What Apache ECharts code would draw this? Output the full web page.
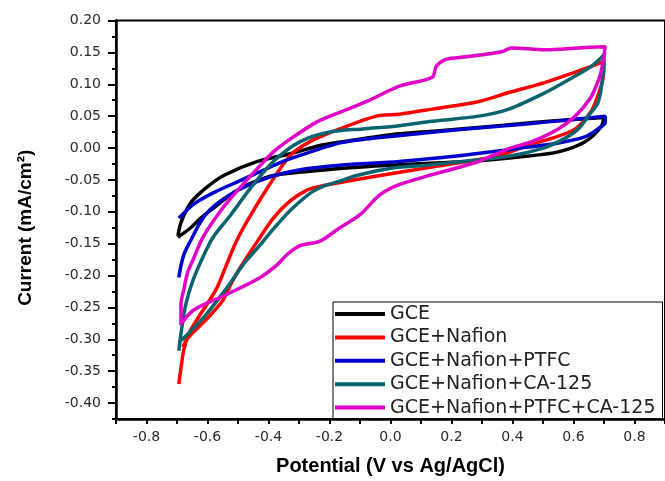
<!DOCTYPE html>
<html>
<head>
<meta charset="utf-8">
<script src="https://cdn.jsdelivr.net/npm/echarts@6/dist/echarts.min.js"></script>
<style>
  html, body { margin: 0; padding: 0; background: #fff; }
  #chart { width: 665px; height: 481px; }
</style>
</head>
<body>
<div id="chart"></div>
<script>
// tick labels
const xTicks = [-0.8, -0.6, -0.4, -0.2, 0.0, 0.2, 0.4, 0.6, 0.8];
const yTicks = [-0.40, -0.35, -0.30, -0.25, -0.20, -0.15, -0.10, -0.05, 0.00, 0.05, 0.10, 0.15, 0.20];

// series names
const names = ['GCE', 'GCE+Nafion', 'GCE+Nafion+PTFC', 'GCE+Nafion+CA-125', 'GCE+Nafion+PTFC+CA-125'];

// [potential (V), current (mA/cm2)], forward scan then return scan
const gce = [
  [-0.697, -0.138], [-0.687, -0.117], [-0.655, -0.086], [-0.606, -0.063], [-0.547, -0.043],
  [-0.436, -0.021], [-0.329, -0.009], [-0.221, 0.005], [-0.111, 0.013], [0.0, 0.021],
  [0.160, 0.027], [0.355, 0.035], [0.518, 0.042], [0.700, 0.048],
  [0.690, 0.033], [0.638, 0.010], [0.550, -0.006], [0.443, -0.013], [0.290, -0.020],
  [0.0, -0.027], [-0.166, -0.032], [-0.274, -0.037], [-0.384, -0.043], [-0.492, -0.063],
  [-0.567, -0.089], [-0.622, -0.110], [-0.655, -0.125], [-0.697, -0.140]
];

const gceNafion = [
  [-0.694, -0.370], [-0.687, -0.345], [-0.677, -0.315], [-0.660, -0.290], [-0.629, -0.265],
  [-0.573, -0.223], [-0.541, -0.187], [-0.508, -0.149], [-0.469, -0.114], [-0.404, -0.063],
  [-0.329, -0.012], [-0.264, 0.010], [-0.166, 0.030], [-0.046, 0.050], [0.029, 0.053],
  [0.137, 0.061], [0.290, 0.073], [0.388, 0.087], [0.508, 0.103], [0.599, 0.118],
  [0.658, 0.128], [0.700, 0.136],
  [0.697, 0.110], [0.680, 0.082], [0.656, 0.056], [0.606, 0.030], [0.528, 0.015],
  [0.453, 0.005], [0.355, -0.012], [0.160, -0.028], [-0.059, -0.045], [-0.221, -0.059],
  [-0.274, -0.066], [-0.329, -0.083], [-0.384, -0.110], [-0.436, -0.146], [-0.492, -0.187],
  [-0.524, -0.214], [-0.550, -0.239], [-0.606, -0.270], [-0.661, -0.296], [-0.681, -0.312]
];

const gceNafionPtfc = [
  [-0.694, -0.110], [-0.645, -0.088], [-0.580, -0.070], [-0.502, -0.053], [-0.427, -0.037],
  [-0.352, -0.021], [-0.274, -0.008], [-0.166, 0.008], [-0.080, 0.014], [0.0, 0.018],
  [0.160, 0.026], [0.355, 0.034], [0.518, 0.041], [0.704, 0.050],
  [0.704, 0.040], [0.680, 0.030], [0.640, 0.018], [0.550, 0.008], [0.443, 0.001],
  [0.332, -0.006], [0.225, -0.012], [0.030, -0.021], [-0.166, -0.027], [-0.296, -0.034],
  [-0.394, -0.045], [-0.482, -0.062], [-0.557, -0.083], [-0.612, -0.108], [-0.655, -0.145],
  [-0.678, -0.168], [-0.694, -0.203]
];

const gceNafionCa = [
  [-0.694, -0.318], [-0.687, -0.291], [-0.671, -0.245], [-0.648, -0.208], [-0.616, -0.172],
  [-0.583, -0.141], [-0.524, -0.105], [-0.459, -0.063], [-0.384, -0.021], [-0.296, 0.010],
  [-0.199, 0.025], [-0.091, 0.030], [0.029, 0.035], [0.137, 0.042], [0.290, 0.050],
  [0.388, 0.061], [0.508, 0.087], [0.599, 0.111], [0.658, 0.128], [0.700, 0.146],
  [0.697, 0.116], [0.681, 0.072], [0.648, 0.050], [0.616, 0.030], [0.567, 0.014],
  [0.495, -0.001], [0.388, -0.013], [0.235, -0.021], [0.117, -0.027], [-0.003, -0.032],
  [-0.111, -0.043], [-0.166, -0.052], [-0.221, -0.060], [-0.254, -0.068], [-0.287, -0.080],
  [-0.329, -0.098], [-0.362, -0.115], [-0.395, -0.133], [-0.427, -0.152], [-0.482, -0.182],
  [-0.530, -0.215], [-0.606, -0.262], [-0.665, -0.292], [-0.694, -0.305]
];

const gceNafionPtfcCa = [
  [-0.687, -0.278], [-0.687, -0.245], [-0.678, -0.223], [-0.665, -0.195], [-0.648, -0.176],
  [-0.616, -0.141], [-0.567, -0.105], [-0.515, -0.074], [-0.436, -0.032], [-0.384, -0.006],
  [-0.329, 0.014], [-0.241, 0.041], [-0.166, 0.056], [-0.078, 0.073], [0.029, 0.097],
  [0.137, 0.111], [0.150, 0.128], [0.182, 0.139], [0.248, 0.143], [0.365, 0.151],
  [0.397, 0.157], [0.508, 0.154], [0.616, 0.157], [0.704, 0.159],
  [0.697, 0.136], [0.688, 0.115], [0.674, 0.097], [0.655, 0.078], [0.606, 0.050],
  [0.550, 0.030], [0.463, 0.010], [0.388, -0.001], [0.290, -0.021], [0.235, -0.029],
  [0.127, -0.043], [0.020, -0.059], [-0.036, -0.074], [-0.101, -0.105], [-0.166, -0.125],
  [-0.231, -0.146], [-0.296, -0.153], [-0.339, -0.167], [-0.371, -0.183], [-0.427, -0.203],
  [-0.534, -0.229], [-0.645, -0.254], [-0.687, -0.276]
];

const seriesData = [gce, gceNafion, gceNafionPtfc, gceNafionCa, gceNafionPtfcCa];
const colors = ['#000000', '#ff0000', '#0000cc', '#0a6470', '#e000c8'];

const tickFont = { fontFamily: 'DejaVu Sans', fontSize: 14, color: '#2a2a2a' };

const chart = echarts.init(document.getElementById('chart'));

const option = {
  animation: false,
  backgroundColor: '#fff',
  grid: {
    left: 116,
    right: -2,
    top: 20.5,
    bottom: 57,
    show: true,
    borderColor: '#000',
    borderWidth: 2
  },
  legend: {
    data: names,
    orient: 'vertical',
    left: 333,
    top: 302,
    icon: 'rect',
    itemWidth: 50,
    itemHeight: 4,
    itemGap: 3.4,
    padding: [2, 7, 1, 2],
    borderColor: '#000',
    borderWidth: 1,
    backgroundColor: '#fff',
    textStyle: { fontFamily: 'DejaVu Sans', fontSize: 19, color: '#222', lineHeight: 20 }
  },
  xAxis: {
    type: 'value',
    min: -0.9,
    max: 0.9,
    interval: 0.1,
    name: 'Potential (V vs Ag/AgCl)',
    nameLocation: 'middle',
    nameGap: 37,
    nameTextStyle: { fontFamily: 'Liberation Sans', fontWeight: 'bold', fontSize: 20, color: '#000' },
    axisLine: { show: true, onZero: false, lineStyle: { color: '#000', width: 2.5 } },
    axisTick: { show: true, length: 5, lineStyle: { color: '#000', width: 2 } },
    axisLabel: Object.assign({
      customValues: xTicks,
      margin: 11,
      formatter: v => v.toFixed(1)
    }, tickFont),
    splitLine: { show: false }
  },
  yAxis: [
    {
      type: 'value',
      min: -0.425,
      max: 0.2,
      position: 'left',
      name: 'Current (mA/cm²)',
      nameLocation: 'middle',
      nameGap: 81,
      nameTextStyle: {
        fontFamily: 'Liberation Sans', fontWeight: 'bold', fontSize: 19, color: '#000',
        padding: [0, 16, 0, 0]
      },
      axisLine: { show: true, onZero: false, lineStyle: { color: '#000', width: 2.5 } },
      axisTick: { show: true, customValues: yTicks, length: 8, lineStyle: { color: '#000', width: 2 } },
      axisLabel: Object.assign({
        customValues: yTicks,
        margin: 15,
        formatter: v => v.toFixed(2)
      }, tickFont),
      splitLine: { show: false }
    },
    {
      // minor ticks every 0.025
      type: 'value',
      min: -0.425,
      max: 0.2,
      interval: 0.025,
      position: 'left',
      offset: 0,
      axisLine: { show: false, onZero: false },
      axisTick: { show: true, length: 4, lineStyle: { color: '#000', width: 2 } },
      axisLabel: { show: false },
      splitLine: { show: false }
    }
  ],
  series: seriesData.map((d, i) => ({
    name: names[i],
    type: 'line',
    data: d,
    yAxisIndex: 0,
    symbol: 'none',
    showSymbol: false,
    smooth: 0.3,
    color: colors[i],
    lineStyle: { color: colors[i], width: 3.5 }
  }))
};

chart.setOption(option);
</script>
</body>
</html>
